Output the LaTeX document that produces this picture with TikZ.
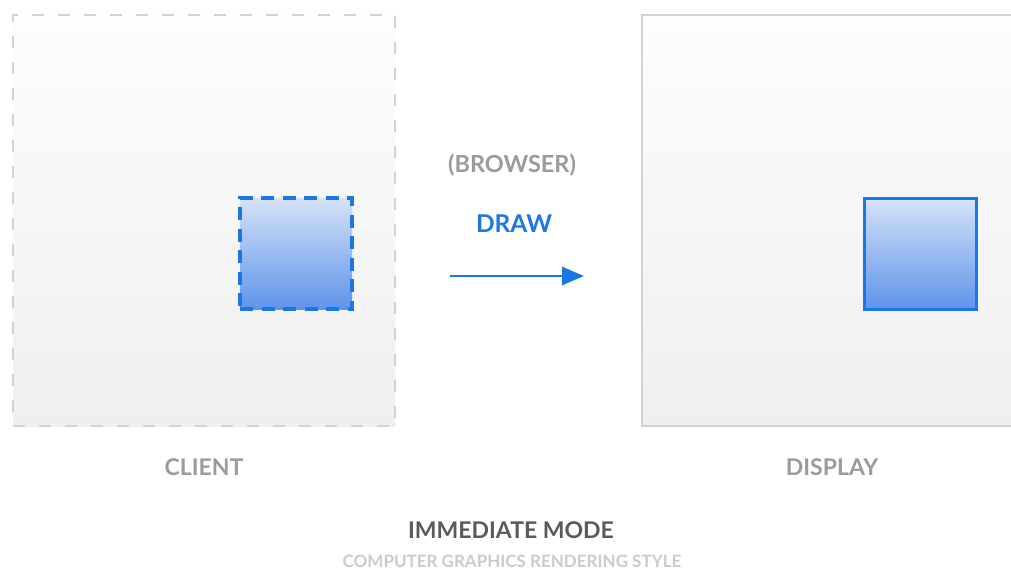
\documentclass[tikz,border=0pt]{standalone}
\usepackage{fontspec}
\setmainfont{Lato}
\usetikzlibrary{arrows.meta}
\definecolor{boxline}{HTML}{D2D2D2}
\definecolor{boxtop}{HTML}{FDFDFD}
\definecolor{boxbot}{HTML}{EFEFF0}
\definecolor{bluel}{HTML}{1A78E4}
\definecolor{bluetop}{HTML}{D6E2F8}
\definecolor{bluebot}{HTML}{5E94EA}
\definecolor{labgray}{HTML}{9B9B9B}
\definecolor{titlegray}{HTML}{5A5A5A}
\definecolor{subgray}{HTML}{CBCBCB}
\tikzset{
  panel/.style={shading=axis, top color=boxtop, bottom color=boxbot, inner sep=0pt, outer sep=0pt},
  bluesq/.style={shading=axis, top color=bluetop, bottom color=bluebot, inner sep=0pt, outer sep=0pt,
     minimum width=112pt, minimum height=111pt, line width=3.2pt, draw=bluel},
  lab/.style={font=\bfseries\fontsize{23}{27}\selectfont, text=labgray, inner sep=0pt},
}
\begin{document}
\begin{tikzpicture}[x=1pt,y=-1pt]
\useasboundingbox (0,0) rectangle (1011,572);
\fill[white] (0,0) rectangle (1011,572);
% client panel
\node[panel, draw=boxline, line width=2.2pt, dash pattern=on 12pt off 14pt,
      minimum width=382pt, minimum height=411pt] (client) at (204,220.5) {};
\node[bluesq, dash pattern=on 13pt off 8.5pt] (csq) at (296,253.5) {};
% display panel
\node[panel, minimum width=369pt, minimum height=411pt] (display) at (826.5,220.5) {};
\draw[boxline, line width=2.2pt] (display.north east) -- (display.north west) -- (display.south west) -- (display.south east);
\node[bluesq] (dsq) at (920.5,254) {};
% middle
\node[lab, font=\bfseries\fontsize{23.5}{28}\selectfont] (browser) at (512,165) {(BROWSER)};
\node[lab, text=bluel, font=\bfseries\fontsize{24.5}{29}\selectfont] (drawlab) at (514,224) {DRAW};
\coordinate (a0) at (450,276);
\coordinate (a1) at (584,276);
\draw[bluel, line width=2.8pt, -{Triangle[length=22pt, width=18pt]}] (a0) -- (a1);
% labels
\node[lab] (clientlab) at (204,467) {CLIENT};
\node[lab] (displaylab) at (832,467) {DISPLAY};
\node[lab, text=titlegray] (title) at (511,530) {IMMEDIATE MODE};
\node[font=\bfseries\fontsize{17}{20}\selectfont, text=subgray, inner sep=0pt] (sub) at (512,561) {COMPUTER GRAPHICS RENDERING STYLE};
\end{tikzpicture}
\end{document}
